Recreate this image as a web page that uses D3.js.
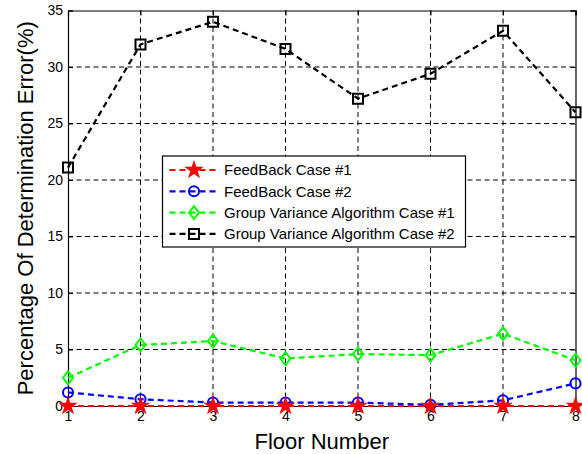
<!DOCTYPE html>
<meta charset="utf-8">
<script src="https://d3js.org/d3.v7.min.js"></script>
<style>
body { margin: 0; background: white; }
text { font-family: "Liberation Sans", Arial, sans-serif; fill: #000; }
.tick text { font-size: 14px; }
.grid line { stroke: #000; stroke-width: 1px; stroke-dasharray: 5 3.5; }
.legend text { font-size: 15px; }
</style>
<body>
<div id="chart"></div>
<script>
  const floors = [1, 2, 3, 4, 5, 6, 7, 8]
  const yTicks = [0, 5, 10, 15, 20, 25, 30, 35]

  const feedback1 = [0, 0, 0, 0, 0, 0, 0, 0]
  const feedback2 = [1.2, 0.6, 0.3, 0.3, 0.3, 0.1, 0.5, 2.0]
  const gva1 = [2.5, 5.4, 5.75, 4.2, 4.6, 4.5, 6.4, 4.05]
  const gva2 = [21.1, 32.0, 34.0, 31.6, 27.2, 29.4, 33.2, 26.0]

  const seriesNames = ["FeedBack Case #1", "FeedBack Case #2",
    "Group Variance Algorithm Case #1", "Group Variance Algorithm Case #2"]

  const series = [
    {name: seriesNames[0], values: feedback1, color: "#ff0000", marker: "star"},
    {name: seriesNames[1], values: feedback2, color: "#0000ff", marker: "circle"},
    {name: seriesNames[2], values: gva1, color: "#00ff00", marker: "diamond"},
    {name: seriesNames[3], values: gva2, color: "#000000", marker: "square"}
  ]

  const width = 582, height = 454
  const margin = {top: 10.5, right: 6.5, bottom: 48, left: 68}

  const svg = d3.select("#chart").append("svg")
    .attr("width", width)
    .attr("height", height)

  const x = d3.scaleLinear().domain([1, 8]).range([margin.left, width - margin.right])
  const y = d3.scaleLinear().domain([0, 35]).range([height - margin.bottom, margin.top])

  // grid
  const grid = svg.append("g").attr("class", "grid")
  grid.selectAll(".gx").data(floors.slice(1, -1)).enter().append("line")
    .attr("x1", d => x(d)).attr("x2", d => x(d))
    .attr("y1", y(0)).attr("y2", y(35))
  grid.selectAll(".gy").data(yTicks.slice(1, -1)).enter().append("line")
    .attr("x1", x(1)).attr("x2", x(8))
    .attr("y1", d => y(d)).attr("y2", d => y(d))

  // axes
  const xAxis = svg.append("g")
    .attr("transform", "translate(0," + y(0) + ")")
    .call(d3.axisBottom(x).tickValues(floors).tickSize(-5).tickPadding(7).tickFormat(d3.format("d")))
  const yAxis = svg.append("g")
    .attr("transform", "translate(" + x(1) + ",0)")
    .call(d3.axisLeft(y).tickValues(yTicks).tickSize(-5).tickPadding(5))
  svg.append("g")
    .attr("transform", "translate(0," + y(35) + ")")
    .call(d3.axisTop(x).tickValues(floors).tickSize(-5).tickFormat(""))
  svg.append("g")
    .attr("transform", "translate(" + x(8) + ",0)")
    .call(d3.axisRight(y).tickValues(yTicks).tickSize(-5).tickFormat(""))
  svg.selectAll(".domain").attr("stroke", "#000").attr("stroke-width", 1.2)
  svg.selectAll(".tick line").attr("stroke", "#000")
  xAxis.selectAll("text").attr("dy", "0.6em")

  // markers
  function markerPath(type) {
    if (type === "star") return d3.symbol(d3.symbolStar, 55)()
    if (type === "circle") return d3.symbol(d3.symbolCircle, 80)()
    if (type === "square") return d3.symbol(d3.symbolSquare, 100)()
    return "M0,-6.5L5,0L0,6.5L-5,0Z"
  }

  const line = d3.line().x((d, i) => x(floors[i])).y(d => y(d))

  // draw from back to front so the red line sits on top at zero
  const drawOrder = [3, 2, 1, 0]
  drawOrder.forEach(k => {
    const s = series[k]
    const g = svg.append("g")
    g.append("path")
      .datum(s.values)
      .attr("d", line)
      .attr("fill", "none")
      .attr("stroke", s.color)
      .attr("stroke-width", 2.2)
      .attr("stroke-dasharray", "6 4")
    g.selectAll("path.mk").data(s.values).enter().append("path")
      .attr("class", "mk")
      .attr("transform", (d, i) => "translate(" + x(floors[i]) + "," + y(d) + ")")
      .attr("d", markerPath(s.marker))
      .attr("fill", s.marker === "star" ? s.color : "none")
      .attr("stroke", s.color)
      .attr("stroke-width", 2)
  })

  // legend
  const lx = 162.5, ly = 156, lw = 303, lh = 91
  const legend = svg.append("g").attr("class", "legend")
  legend.append("rect")
    .attr("x", lx).attr("y", ly).attr("width", lw).attr("height", lh)
    .attr("fill", "white").attr("stroke", "#000").attr("stroke-width", 1.2)
  series.forEach((s, i) => {
    const ry = ly + 14 + i * 21.3
    legend.append("line")
      .attr("x1", lx + 7).attr("x2", lx + 54)
      .attr("y1", ry).attr("y2", ry)
      .attr("stroke", s.color).attr("stroke-width", 2.2)
      .attr("stroke-dasharray", "6 4")
    legend.append("path")
      .attr("transform", "translate(" + (lx + 31.5) + "," + ry + ")")
      .attr("d", markerPath(s.marker))
      .attr("fill", s.marker === "star" ? s.color : "none")
      .attr("stroke", s.color)
      .attr("stroke-width", 2)
    legend.append("text")
      .attr("x", lx + 61.5).attr("y", ry)
      .attr("dy", "0.35em")
      .text(s.name)
  })

  // axis labels
  svg.append("text")
    .attr("x", (x(1) + x(8)) / 2)
    .attr("y", 449)
    .attr("text-anchor", "middle")
    .style("font-size", "22px")
    .text("Floor Number")

  svg.append("text")
    .attr("transform", "translate(33," + ((y(0) + y(35)) / 2) + ") rotate(-90)")
    .attr("text-anchor", "middle")
    .style("font-size", "22px")
    .text("Percentage Of Determination Error(%)")
</script>
</body>
